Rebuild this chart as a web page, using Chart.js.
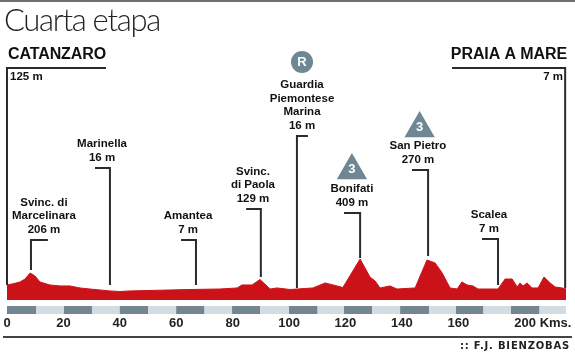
<!DOCTYPE html>
<html>
<head>
<meta charset="utf-8">
<title>Cuarta etapa</title>
<script src="https://cdn.jsdelivr.net/npm/chart.js@4"></script>
<style>
  html, body { margin: 0; padding: 0; background: #fff; }
  canvas { display: block; }
</style>
</head>
<body>
<canvas id="profileChart" width="575" height="356"></canvas>
<script>
// profile: km along the stage, height in metres
const profileKm = [0, 1.8, 4.6, 6.4, 8.2, 9.9, 11.7, 15.2, 18.8, 22.3, 25.9, 29.4, 33, 36.5, 40, 43.6, 50.7, 57.8, 64.9, 75.5, 81.6, 83.3, 86.9, 89.7, 93.3, 95.7, 100.4, 108.5, 112.8, 115.6, 119.1, 125.2, 128.7, 130.5, 132.3, 134, 135.8, 138.3, 144.7, 148.9, 151.8, 154.3, 157.1, 159.6, 161.3, 163.1, 165.2, 167, 174.1, 176.6, 179.1, 180.9, 181.9, 183, 184.4, 186.2, 188.3, 190.4, 192.6, 194.3, 196.8, 198.2];
const profileHeight = [86, 98, 123, 160, 235, 198, 123, 86, 74, 74, 49, 36, 24, 12, 5, 12, 18, 24, 30, 36, 49, 86, 86, 154, 36, 49, 30, 49, 111, 86, 55, 408, 185, 136, 49, 61, 74, 36, 49, 396, 359, 235, 49, 36, 123, 86, 74, 36, 36, 160, 160, 61, 111, 74, 111, 49, 49, 185, 111, 61, 49, 36];

// named points on the route
const stopLines = [
  ["206 m", "Marcelinara", "Svinc. di"],
  ["16 m", "Marinella"],
  ["7 m", "Amantea"],
  ["129 m", "di Paola", "Svinc."],
  ["16 m", "Marina", "Piemontese", "Guardia"],
  ["409 m", "Bonifati"],
  ["270 m", "San Pietro"],
  ["7 m", "Scalea"]
];
const stopKm = [8.5, 36.5, 67, 90, 102.8, 125.2, 149.3, 174.1];
const stubKm = [14.5, 31.2, 61.7, 84.8, 106.7, 119.5, 143.6, 168.4];
const labelKm = [13.1, 33.7, 64.2, 87.2, 104.6, 122.3, 145.7, 170.9];
const leaderTop = [644, 1537, 644, 1028, 1934, 979, 1512, 656];
const leaderBottom = [272, 86, 86, 185, 49, 421, 446, 86];

// climbs: km, height of the badge, category text
const climbKm = [122.3, 146.3];
const climbBadge = [1506, 2027];
const climbText = ["3", "3"];
const sprintKm = [104.6];
const sprintBadge = [2851];
const sprintText = ["R"];

// km ruler
const tickKm = [0, 20, 40, 60, 80, 100, 120, 140, 160, 190];
const tickLabels = ["0", "20", "40", "60", "80", "100", "120", "140", "160", "200 Kms."];
const bandStart = [0, 20.2, 40, 60, 79.8, 100, 119.5, 139.4, 159.2, 178.7];
const bandEnd = [10.3, 30.1, 50, 69.9, 89.7, 110, 129.4, 149.6, 168.8, 188.7];

const totalKm = 198.2;
const bottomHeight = -274;
const topHeight = 2777;
const baseHeight = -100;
const bandHeight = -224;

const inkColor = "#2b2b2b";
const redColor = "#cc1219";
const badgeColor = "#6f8693";
const labelFont = "bold 11.5px 'Liberation Sans', sans-serif";
const headFont = "900 16px 'Liberation Sans', sans-serif";
const badgeFont = "900 13px 'Liberation Sans', sans-serif";

const leaderData = [];
stopKm.forEach((km, i) => {
  leaderData.push({ x: stubKm[i], y: leaderTop[i] }, { x: km, y: leaderTop[i] }, { x: km, y: leaderBottom[i] }, { x: null, y: null });
});

const bandData = [];
bandStart.forEach((km, i) => {
  bandData.push({ x: km, y: bandHeight }, { x: bandEnd[i], y: bandHeight }, { x: null, y: null });
});

const frameData = [
  { x: 35.1, y: topHeight }, { x: 0, y: topHeight }, { x: 0, y: 86 }, { x: null, y: null },
  { x: 157.8, y: topHeight }, { x: 197.9, y: topHeight }, { x: 197.9, y: 49 }
];

function pageText(ctx, text, x, y, font, align, color, spacing) {
  ctx.font = font;
  ctx.textAlign = align;
  ctx.textBaseline = "middle";
  ctx.fillStyle = color;
  ctx.letterSpacing = spacing || "0px";
  ctx.fillText(text, x, y);
  ctx.letterSpacing = "0px";
}

const textPlugin = {
  id: "stageText",
  afterDatasetsDraw(chart) {
    const { ctx, scales: { x, y }, width } = chart;
    ctx.save();

    // rules above and below
    ctx.fillStyle = "#6e6e6e";
    ctx.fillRect(0, 0, width, 2);
    ctx.fillStyle = "#444";
    ctx.fillRect(3, 336, 569, 2);

    pageText(ctx, "Cuarta etapa", 4, 21, "300 31px Lato, 'Open Sans', sans-serif", "left", "#222", "-1.3px");
    pageText(ctx, "CATANZARO", 8, 55, headFont, "left", "#111", "-0.1px");
    pageText(ctx, "PRAIA A MARE", 567, 55, headFont, "right", "#111", "-0.1px");
    pageText(ctx, "125 m", 10, 77, labelFont, "left", "#111");
    pageText(ctx, "7 m", 563, 77, labelFont, "right", "#111");
    pageText(ctx, ":: F.J. BIENZOBAS", 570, 346, "bold 10px 'DejaVu Sans', sans-serif", "right", "#222", "0.8px");

    stopLines.forEach((lines, i) => {
      const cx = x.getPixelForValue(labelKm[i]);
      const top = y.getPixelForValue(leaderTop[i]);
      lines.forEach((line, n) => {
        pageText(ctx, line, cx, top - 10.5 - n * 13.5, labelFont, "center", "#111");
      });
    });

    climbKm.forEach((km, i) => {
      pageText(ctx, climbText[i], x.getPixelForValue(km), y.getPixelForValue(climbBadge[i]) - 1, badgeFont, "center", "#fff");
    });
    sprintKm.forEach((km, i) => {
      pageText(ctx, sprintText[i], x.getPixelForValue(km), y.getPixelForValue(sprintBadge[i]), badgeFont, "center", "#fff");
    });
    ctx.restore();
  }
};

new Chart(document.getElementById("profileChart").getContext("2d"), {
  type: "line",
  data: {
    datasets: [
      {
        data: profileKm.map((km, i) => ({ x: km, y: profileHeight[i] })),
        borderColor: redColor,
        borderWidth: 1,
        backgroundColor: redColor,
        fill: { value: baseHeight },
        pointRadius: 0,
        tension: 0,
        order: 3
      },
      {
        data: [{ x: 0, y: bandHeight }, { x: totalKm, y: bandHeight }],
        borderColor: "#d3dde1",
        borderWidth: 8,
        pointRadius: 0,
        order: 5
      },
      {
        data: bandData,
        borderColor: "#728590",
        borderWidth: 8,
        pointRadius: 0,
        spanGaps: false,
        order: 4
      },
      {
        data: leaderData,
        borderColor: inkColor,
        borderWidth: 2,
        pointRadius: 0,
        spanGaps: false,
        clip: false,
        order: 2
      },
      {
        data: frameData,
        borderColor: inkColor,
        borderWidth: 2,
        pointRadius: 0,
        spanGaps: false,
        clip: false,
        order: 2
      },
      {
        data: climbKm.map((km, i) => ({ x: km, y: climbBadge[i] })),
        showLine: false,
        pointStyle: "triangle",
        pointRadius: 17.5,
        pointBorderWidth: 0,
        pointBackgroundColor: badgeColor,
        clip: false,
        order: 1
      },
      {
        data: sprintKm.map((km, i) => ({ x: km, y: sprintBadge[i] })),
        showLine: false,
        pointStyle: "circle",
        pointRadius: 11,
        pointBorderWidth: 0,
        pointBackgroundColor: badgeColor,
        clip: false,
        order: 1
      }
    ]
  },
  options: {
    responsive: false,
    animation: false,
    layout: { autoPadding: false, padding: { top: 68, left: 7, right: 9, bottom: 0 } },
    plugins: {
      legend: { display: false },
      tooltip: { enabled: false }
    },
    scales: {
      x: {
        type: "linear",
        min: 0,
        max: totalKm,
        grid: { display: false, drawTicks: false },
        border: { display: false },
        afterBuildTicks: axis => { axis.ticks = tickKm.map(value => ({ value })); },
        afterFit: axis => {
          axis.height = 42;
          axis.paddingLeft = 0;
          axis.paddingRight = 0;
        },
        ticks: {
          autoSkip: false,
          maxRotation: 0,
          padding: 2,
          color: "#222",
          font: { family: "'Liberation Sans', sans-serif", size: 13, weight: "bold" },
          callback: value => tickLabels[tickKm.indexOf(value)]
        }
      },
      y: {
        display: false,
        min: bottomHeight,
        max: topHeight
      }
    }
  },
  plugins: [textPlugin]
});
</script>
</body>
</html>
